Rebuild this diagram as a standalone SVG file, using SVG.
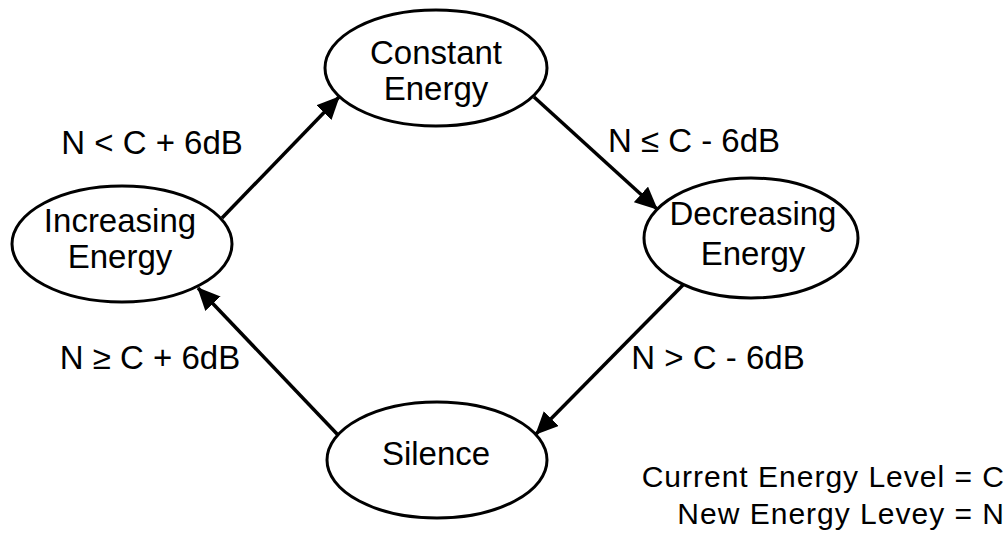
<svg xmlns="http://www.w3.org/2000/svg" width="1007" height="536" viewBox="0 0 1007 536">
  <style>
    .state { fill: #ffffff; stroke: #000000; stroke-width: 3; }
    .label { font-family: "Liberation Sans", Arial, Helvetica, sans-serif; font-size: 33px; fill: #000000; text-anchor: middle; }
    .legend { font-size: 30px; letter-spacing: 1px; text-anchor: end; }
    .edge { stroke: #000000; stroke-width: 3.5; fill: none; marker-end: url(#head); }
  </style>
  <defs>
    <marker id="head" markerWidth="6.5" markerHeight="6" refX="6.2" refY="3" orient="auto" markerUnits="strokeWidth">
      <path d="M0,0 L6.5,3 L0,6 Z" fill="#000000"/>
    </marker>
  </defs>
  <rect width="1007" height="536" fill="#ffffff"/>

  <!-- state transitions -->
  <g id="connectors">
    <line class="edge" x1="222" y1="218" x2="339" y2="97"/>
    <line class="edge" x1="534" y1="97" x2="657" y2="209"/>
    <line class="edge" x1="683" y1="285" x2="536" y2="434"/>
    <line class="edge" x1="338" y1="435" x2="198" y2="288"/>
  </g>

  <g id="constant-energy">
    <ellipse class="state" cx="436" cy="68" rx="111" ry="58"/>
    <text class="label" x="436" y="64">Constant</text>
    <text class="label" x="436" y="100">Energy</text>
  </g>

  <g id="increasing-energy">
    <ellipse class="state" cx="122" cy="244" rx="110" ry="58"/>
    <text class="label" x="120" y="232">Increasing</text>
    <text class="label" x="120" y="268">Energy</text>
  </g>

  <g id="decreasing-energy">
    <ellipse class="state" cx="751" cy="238" rx="107" ry="60"/>
    <text class="label" x="753" y="225">Decreasing</text>
    <text class="label" x="753" y="265">Energy</text>
  </g>

  <g id="silence">
    <ellipse class="state" cx="437" cy="460" rx="110" ry="58"/>
    <text class="label" x="436" y="465">Silence</text>
  </g>

  <!-- transition conditions -->
  <g id="conditions">
    <text class="label" x="152" y="154">N &lt; C + 6dB</text>
    <text class="label" x="694" y="152">N ≤ C - 6dB</text>
    <text class="label" x="150" y="369">N ≥ C + 6dB</text>
    <text class="label" x="718" y="369">N &gt; C - 6dB</text>
  </g>

  <!-- legend -->
  <g id="legend">
    <text class="label legend" x="1005" y="487">Current Energy Level = C</text>
    <text class="label legend" x="1005" y="524">New Energy Levey = N</text>
  </g>
</svg>
